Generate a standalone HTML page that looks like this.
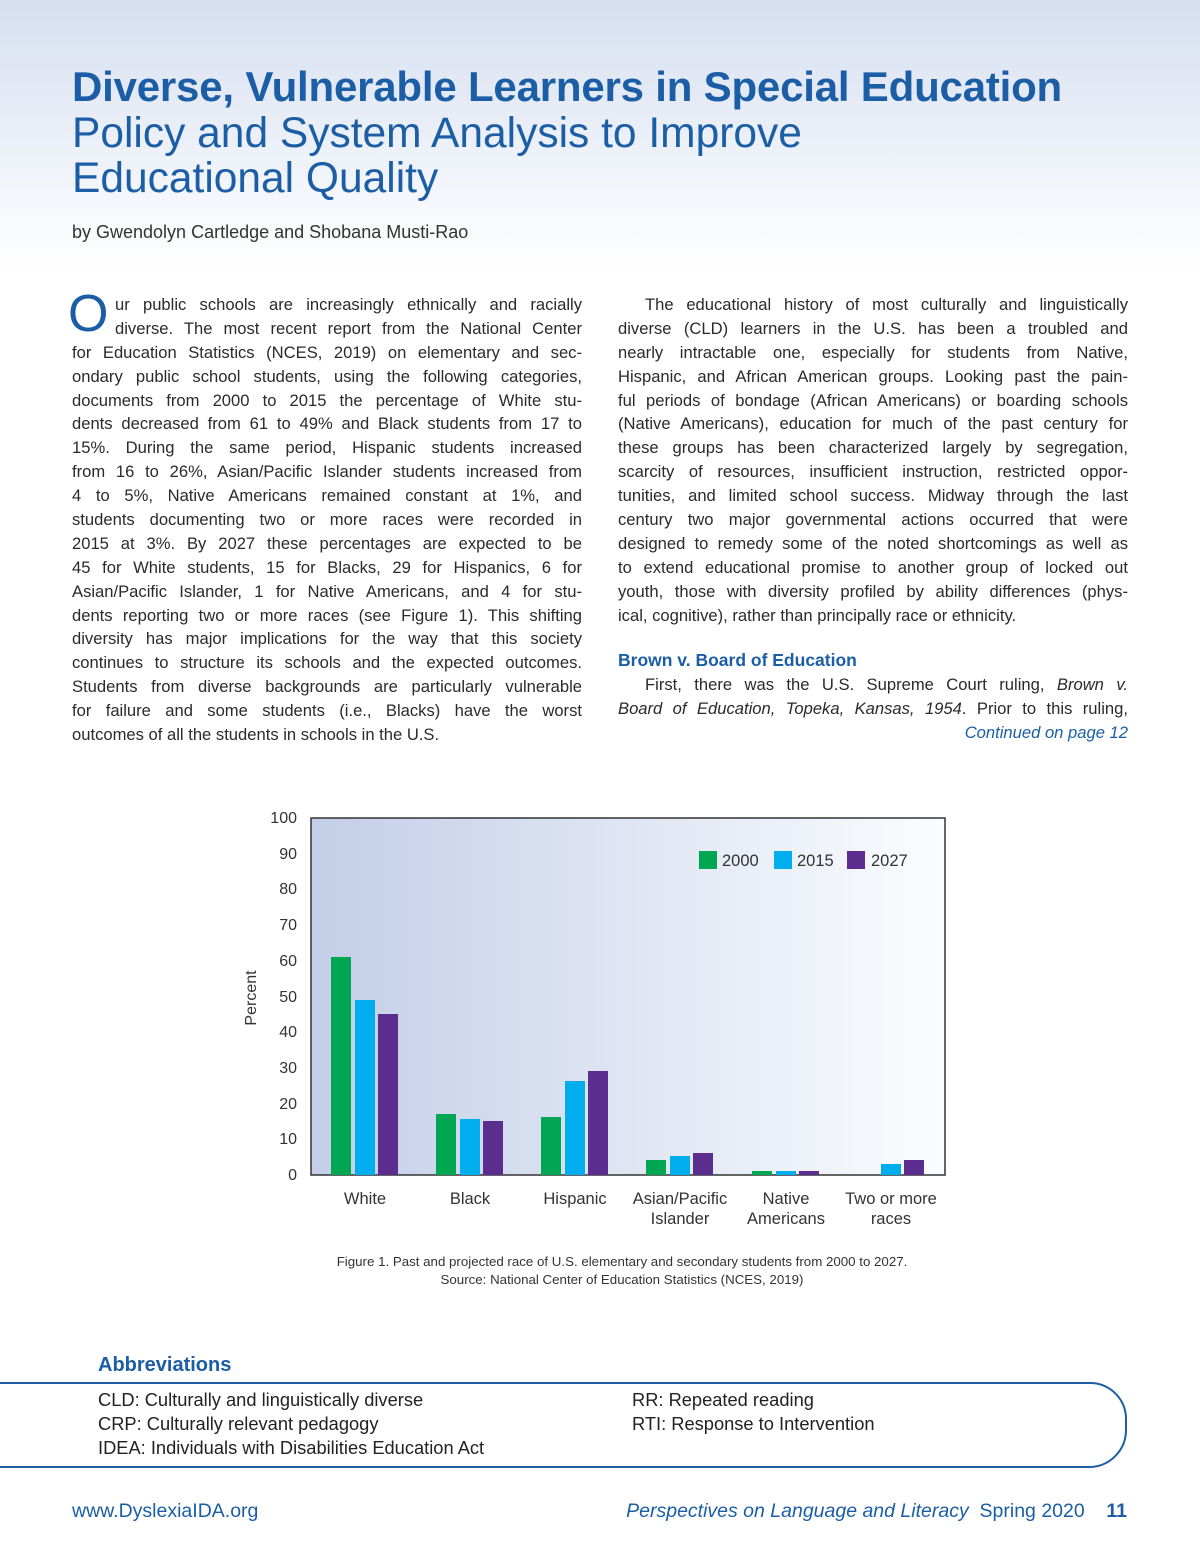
<!DOCTYPE html>
<html><head><meta charset="utf-8">
<style>
body{margin:0;width:1200px;height:1558px;position:relative;background:#fff;font-family:"Liberation Sans",sans-serif;color:#222;overflow:hidden}
.hdr{position:absolute;left:0;top:0;width:1200px;height:270px;background:linear-gradient(#d6dff0,#fff)}
.a{position:absolute;white-space:nowrap}
.t1{left:72px;top:63px;font-size:42px;font-weight:bold;color:#1b5ea6;letter-spacing:-0.2px}
.t2{left:72px;font-size:42.5px;color:#1b5ea6}
.col{position:absolute;width:510px;font-size:16.6px;line-height:23.9px;color:#2a2a2a}
.col div{text-align:justify;text-align-last:justify;white-space:nowrap;height:23.9px}
.col div.l{text-align-last:left}
.blue{color:#1b5ea6}
</style></head><body>
<div class="hdr"></div>
<div class="a t1">Diverse, Vulnerable Learners in Special Education</div>
<div class="a t2" style="top:110px">Policy and System Analysis to Improve</div>
<div class="a t2" style="top:155px">Educational Quality</div>
<div class="a" style="left:72px;top:222px;font-size:18px;color:#333">by Gwendolyn Cartledge and Shobana Musti-Rao</div>

<div class="a" style="left:68px;top:288px;font-size:52px;color:#1b5ea6;line-height:52px">O</div>
<div class="col" style="left:72px;top:293px">
<div style="margin-left:43px">ur public schools are increasingly ethnically and racially</div>
<div style="margin-left:43px">diverse. The most recent report from the National Center</div>
<div>for Education Statistics (NCES, 2019) on elementary and sec-</div>
<div>ondary public school students, using the following categories,</div>
<div>documents from 2000 to 2015 the percentage of White stu-</div>
<div>dents decreased from 61 to 49% and Black students from 17 to</div>
<div>15%. During the same period, Hispanic students increased</div>
<div>from 16 to 26%, Asian/Pacific Islander students increased from</div>
<div>4 to 5%, Native Americans remained constant at 1%, and</div>
<div>students documenting two or more races were recorded in</div>
<div>2015 at 3%. By 2027 these percentages are expected to be</div>
<div>45 for White students, 15 for Blacks, 29 for Hispanics, 6 for</div>
<div>Asian/Pacific Islander, 1 for Native Americans, and 4 for stu-</div>
<div>dents reporting two or more races (see Figure 1). This shifting</div>
<div>diversity has major implications for the way that this society</div>
<div>continues to structure its schools and the expected outcomes.</div>
<div>Students from diverse backgrounds are particularly vulnerable</div>
<div>for failure and some students (i.e., Blacks) have the worst</div>
<div class="l">outcomes of all the students in schools in the U.S.</div>
</div>

<div class="col" style="left:618px;top:293px">
<div style="margin-left:27px">The educational history of most culturally and linguistically</div>
<div>diverse (CLD) learners in the U.S. has been a troubled and</div>
<div>nearly intractable one, especially for students from Native,</div>
<div>Hispanic, and African American groups. Looking past the pain-</div>
<div>ful periods of bondage (African Americans) or boarding schools</div>
<div>(Native Americans), education for much of the past century for</div>
<div>these groups has been characterized largely by segregation,</div>
<div>scarcity of resources, insufficient instruction, restricted oppor-</div>
<div>tunities, and limited school success. Midway through the last</div>
<div>century two major governmental actions occurred that were</div>
<div>designed to remedy some of the noted shortcomings as well as</div>
<div>to extend educational promise to another group of locked out</div>
<div>youth, those with diversity profiled by ability differences (phys-</div>
<div class="l">ical, cognitive), rather than principally race or ethnicity.</div>
<div class="l" style="margin-top:22px;font-weight:bold;color:#1b5ea6;font-size:17.5px">Brown v. Board of Education</div>
<div style="margin-left:27px">First, there was the U.S. Supreme Court ruling, <i>Brown v.</i></div>
<div><i>Board of Education, Topeka, Kansas, 1954</i>. Prior to this ruling,</div>
<div class="l" style="text-align-last:right"><i class="blue">Continued on page 12</i></div>
</div>

<svg class="a" style="left:0;top:790px" width="1200" height="500">
<defs><linearGradient id="g" x1="0" x2="1"><stop offset="0" stop-color="#c3cee8"/><stop offset="1" stop-color="#fbfcfe"/></linearGradient></defs>
<rect x="311" y="28" width="634" height="357" fill="url(#g)" stroke="#333" stroke-width="1.5"/>
<g font-family="Liberation Sans" font-size="16" fill="#333" text-anchor="end">
<text x="297" y="33">100</text><text x="297" y="69">90</text><text x="297" y="104">80</text><text x="297" y="140">70</text><text x="297" y="176">60</text><text x="297" y="212">50</text><text x="297" y="247">40</text><text x="297" y="283">30</text><text x="297" y="319">20</text><text x="297" y="354">10</text><text x="297" y="390">0</text>
</g>
<text transform="translate(256,208) rotate(-90)" font-family="Liberation Sans" font-size="16" fill="#333" text-anchor="middle">Percent</text>
<g>
<rect x="331" y="167" width="20" height="218" fill="#00a651"/><rect x="355" y="210" width="20" height="175" fill="#00aeef"/><rect x="378" y="224" width="20" height="161" fill="#5b2d8e"/>
<rect x="436" y="324" width="20" height="61" fill="#00a651"/><rect x="460" y="329" width="20" height="56" fill="#00aeef"/><rect x="483" y="331" width="20" height="54" fill="#5b2d8e"/>
<rect x="541" y="327" width="20" height="58" fill="#00a651"/><rect x="565" y="291" width="20" height="94" fill="#00aeef"/><rect x="588" y="281" width="20" height="104" fill="#5b2d8e"/>
<rect x="646" y="370" width="20" height="15" fill="#00a651"/><rect x="670" y="366" width="20" height="19" fill="#00aeef"/><rect x="693" y="363" width="20" height="22" fill="#5b2d8e"/>
<rect x="752" y="381" width="20" height="4" fill="#00a651"/><rect x="776" y="381" width="20" height="4" fill="#00aeef"/><rect x="799" y="381" width="20" height="4" fill="#5b2d8e"/>
<rect x="881" y="374" width="20" height="11" fill="#00aeef"/><rect x="904" y="370" width="20" height="15" fill="#5b2d8e"/>
</g>
<g font-family="Liberation Sans" font-size="16.5" fill="#333">
<rect x="699" y="61" width="18" height="18" fill="#00a651"/><text x="722" y="76">2000</text>
<rect x="774" y="61" width="18" height="18" fill="#00aeef"/><text x="797" y="76">2015</text>
<rect x="847" y="61" width="18" height="18" fill="#5b2d8e"/><text x="871" y="76">2027</text>
</g>
<g font-family="Liberation Sans" font-size="16.5" fill="#333" text-anchor="middle">
<text x="365" y="414">White</text><text x="470" y="414">Black</text><text x="575" y="414">Hispanic</text>
<text x="680" y="414">Asian/Pacific</text><text x="680" y="434">Islander</text>
<text x="786" y="414">Native</text><text x="786" y="434">Americans</text>
<text x="891" y="414">Two or more</text><text x="891" y="434">races</text>
</g>
<g font-family="Liberation Sans" font-size="13.3" fill="#333" text-anchor="middle">
<text x="622" y="476">Figure 1. Past and projected race of U.S. elementary and secondary students from 2000 to 2027.</text>
<text x="622" y="494">Source: National Center of Education Statistics (NCES, 2019)</text>
</g>
</svg>

<div class="a" style="left:98px;top:1354px;font-size:20px;font-weight:bold;color:#1b5ea6">Abbreviations</div>
<svg class="a" style="left:0;top:1375px" width="1200" height="100">
<path d="M0 8 H1090 A36 36 0 0 1 1126 44 V55 A37 37 0 0 1 1089 92 H0" fill="none" stroke="#1b5ea6" stroke-width="2"/>
</svg>
<div class="a" style="left:98px;top:1388px;font-size:18.3px;line-height:24px;color:#222">CLD: Culturally and linguistically diverse<br>CRP: Culturally relevant pedagogy<br>IDEA: Individuals with Disabilities Education Act</div>
<div class="a" style="left:632px;top:1388px;font-size:18.3px;line-height:24px;color:#222">RR: Repeated reading<br>RTI: Response to Intervention</div>

<div class="a" style="left:72px;top:1500px;font-size:19.5px;color:#1b5ea6">www.DyslexiaIDA.org</div>
<div class="a" style="right:73px;top:1500px;font-size:19.5px;color:#1b5ea6"><i>Perspectives on Language and Literacy</i>&nbsp; Spring 2020 &nbsp;&nbsp;&nbsp;<b>11</b></div>
</body></html>
